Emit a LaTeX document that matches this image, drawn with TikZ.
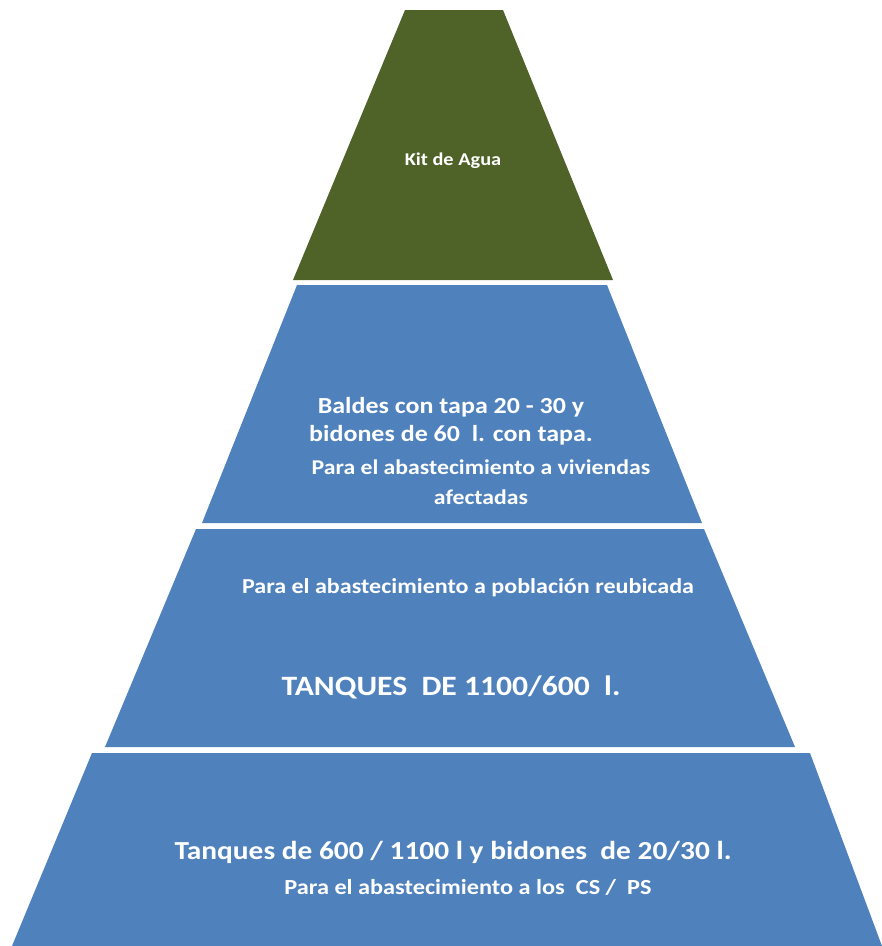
\documentclass[tikz,border=0pt]{standalone}
\usepackage{fontspec}
\setmainfont{Carlito}
\definecolor{kitgreen}{HTML}{4F6228}
\definecolor{tierblue}{HTML}{4F81BD}

\begin{document}
\begin{tikzpicture}[x=1pt,y=-1pt,
	lbl/.style={text=white,align=center,inner sep=0pt,xscale=1.13}]

	% canvas
	\useasboundingbox (0,0) rectangle (882,946);

	% coordinates (corners of each tier)

	\coordinate (A1) at (405,10);  \coordinate (B1) at (503,10);
	\coordinate (C1) at (613,280); \coordinate (D1) at (293,280);

	\coordinate (A2) at (297,285); \coordinate (B2) at (607,285);
	\coordinate (C2) at (702,523); \coordinate (D2) at (202,523);

	\coordinate (A3) at (196,529); \coordinate (B3) at (704,529);
	\coordinate (C3) at (795,747); \coordinate (D3) at (105,747);

	\coordinate (A4) at (92,753);  \coordinate (B4) at (810,753);
	\coordinate (C4) at (882,946); \coordinate (D4) at (12,946);

	% tiers
	\fill[kitgreen] (A1) -- (B1) -- (C1) -- (D1) -- cycle;
	\foreach \i in {2,3,4} { \fill[tierblue] (A\i) -- (B\i) -- (C\i) -- (D\i) -- cycle; }

	% labels

	\node[lbl, font=\bfseries\fontsize{18}{20}\selectfont] (kit) at (453,161) {Kit de Agua};

	\node[lbl, font=\bfseries\fontsize{23}{28}\selectfont] (baldes) at (451,421)
	{Baldes con tapa 20 - 30 y\\bidones de 60\ \ l. con tapa.};
	\node[lbl, font=\bfseries\fontsize{21}{30}\selectfont] (viviendas) at (481,482)
	{Para el abastecimiento a viviendas\\afectadas};

	\node[lbl, font=\bfseries\fontsize{21.3}{24}\selectfont] (poblacion) at (468,588)
	{Para el abastecimiento a población reubicada};
	\node[lbl, font=\bfseries\fontsize{28}{32}\selectfont] (tanques) at (451,687)
	{TANQUES\ \ DE 1100/600\ \ l.};

	\node[lbl, font=\bfseries\fontsize{26}{30}\selectfont] (bidones) at (453,852)
	{Tanques de 600 / 1100 l y bidones\ \ de 20/30 l.};
	\node[lbl, font=\bfseries\fontsize{21.5}{24}\selectfont] (centros) at (468,887)
	{Para el abastecimiento a los\ \ CS /\ \ PS};

\end{tikzpicture}
\end{document}
